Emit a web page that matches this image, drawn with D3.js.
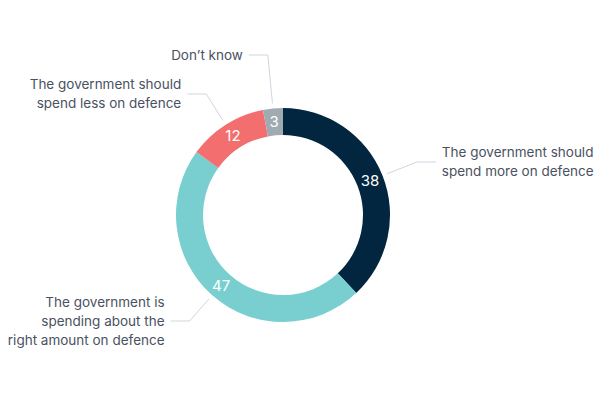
<!DOCTYPE html>
<html><head><meta charset="utf-8">
<script src="https://cdn.jsdelivr.net/npm/d3@7"></script>
<style>html,body{margin:0;padding:0;background:#fff}svg{display:block}</style>
</head><body>
<svg id="chart" width="600" height="400"></svg>
<script>
const categories = [
  "The government should spend more on defence",
  "The government is spending about the right amount on defence",
  "The government should spend less on defence",
  "Don\u2019t know"
];
const values = [38, 47, 12, 3];
const labelLines = [
  ["The government should", "spend more on defence"],
  ["The government is", "spending about the", "right amount on defence"],
  ["The government should", "spend less on defence"],
  ["Don\u2019t know"]
];
const colors = ["#02263f", "#79cfd0", "#f26e6f", "#a0abb1"];
const labelY = [162, 321, 94, 55];

const svg = d3.select("#chart");
const cx = 283, cy = 215, outerR = 107, innerR = 80;
const g = svg.append("g").attr("transform", `translate(${cx},${cy})`);
const pie = d3.pie().sort(null).value(d => d);
const arcs = pie(values);
const arc = d3.arc().innerRadius(innerR).outerRadius(outerR);

g.selectAll("path.slice").data(arcs).join("path")
  .attr("class", "slice")
  .attr("d", arc)
  .attr("fill", (d, i) => colors[i]);

const midR = (innerR + outerR) / 2;
const labArc = d3.arc().innerRadius(midR).outerRadius(midR);
g.selectAll("text.val").data(arcs).join("text")
  .attr("class", "val")
  .attr("transform", d => `translate(${labArc.centroid(d)})`)
  .attr("text-anchor", "middle")
  .attr("dy", "0.36em")
  .attr("fill", "#fff")
  .attr("font-family", "Inter, 'Noto Sans', sans-serif")
  .attr("font-size", 15)
  .attr("font-weight", 400)
  .text(d => d.data);

arcs.forEach((d, i) => {
  const a = (d.startAngle + d.endAngle) / 2;
  const s = Math.sin(a), c = -Math.cos(a);
  const r0 = outerR + 5;
  const x0 = s * r0, y0 = c * r0;
  const ly = labelY[i] - cy;
  const r1 = ly / c;
  const x1 = s * r1;
  const right = s > 0;
  const x2 = x1 + (right ? 19 : -19);
  g.append("path")
    .attr("d", `M${x0},${y0}L${x1},${ly}L${x2},${ly}`)
    .attr("fill", "none")
    .attr("stroke", "#cfd7df")
    .attr("stroke-width", 1);
  const lines = labelLines[i];
  const lh = 19;
  const t = g.append("text")
    .attr("text-anchor", right ? "start" : "end")
    .attr("fill", "#4a5262")
    .attr("font-family", "Inter, 'Noto Sans', sans-serif")
    .attr("font-size", 13.5);
  lines.forEach((ln, k) => {
    t.append("tspan")
      .attr("x", x2 + (right ? 6 : -6))
      .attr("y", ly + (k - (lines.length - 1) / 2) * lh)
      .attr("dy", "0.35em")
      .text(ln);
  });
});
</script>
</body></html>
